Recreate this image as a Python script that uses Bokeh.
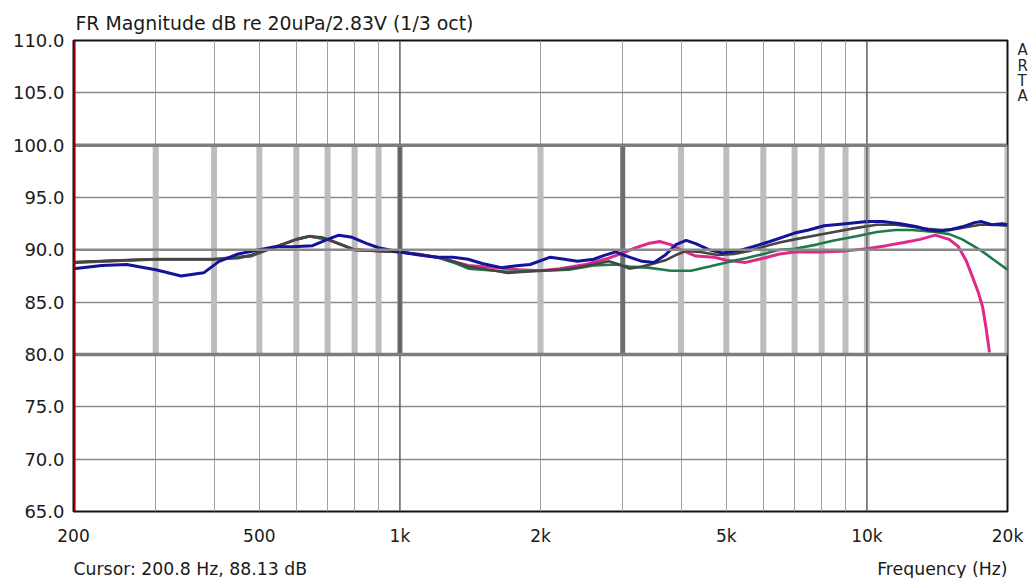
from bokeh.plotting import figure
from bokeh.layouts import column
from bokeh.models import FixedTicker, PrintfTickFormatter, Span, Label, Range1d, LinearAxis
from bokeh.embed import file_html
from bokeh.resources import INLINE

# ---------------- data ----------------
blue_f = [200, 230, 260, 300, 340, 380, 410, 450, 500, 540, 590, 650, 700, 740, 790, 850, 900,
          1000, 1100, 1200, 1300, 1400, 1500, 1650, 1800, 1900, 2100, 2250, 2400, 2600, 2750, 2900,
          3100, 3300, 3500, 3700, 3900, 4100, 4300, 4600, 4900, 5300, 5700, 6200, 7000, 7500, 8100,
          9000, 10000, 10800, 11800, 12800, 13500, 14200, 15000, 16000, 17000, 17600, 18500, 19500, 20000]
blue_db = [88.2, 88.5, 88.6, 88.1, 87.5, 87.8, 88.9, 89.6, 90.0, 90.3, 90.3, 90.4, 91.0, 91.4, 91.2, 90.6, 90.2,
           89.8, 89.5, 89.3, 89.3, 89.1, 88.7, 88.3, 88.5, 88.6, 89.3, 89.1, 88.9, 89.1, 89.5, 89.8,
           89.3, 88.9, 88.8, 89.5, 90.5, 90.9, 90.6, 90.0, 89.7, 89.9, 90.3, 90.8, 91.6, 91.9, 92.3,
           92.5, 92.7, 92.7, 92.5, 92.2, 91.9, 91.8, 91.9, 92.2, 92.6, 92.7, 92.4, 92.5, 92.4]

grey_f = [200, 250, 300, 350, 400, 450, 480, 520, 560, 600, 640, 680, 720, 760, 800, 900, 1000, 1100,
          1200, 1300, 1400, 1500, 1600, 1700, 1850, 2000, 2200, 2400, 2600, 2800, 2950, 3100, 3300, 3500,
          3700, 3900, 4100, 4400, 4800, 5200, 5600, 6000, 6500, 7000, 7800, 8500, 9500, 10500, 11500,
          12500, 13500, 14500, 15500, 16500, 17500, 18500, 20000]
grey_db = [88.8, 89.0, 89.1, 89.1, 89.1, 89.2, 89.5, 90.0, 90.5, 91.0, 91.3, 91.2, 90.8, 90.4, 90.0, 89.9, 89.8, 89.6,
           89.3, 88.9, 88.4, 88.2, 88.0, 87.8, 87.9, 88.0, 88.1, 88.3, 88.6, 88.9, 88.6, 88.2, 88.4, 88.7,
           89.0, 89.5, 89.9, 89.8, 89.5, 89.6, 89.9, 90.3, 90.7, 91.0, 91.4, 91.7, 92.1, 92.4, 92.4,
           92.2, 92.0, 91.9, 92.0, 92.2, 92.4, 92.4, 92.3]

green_f = [200, 300, 400, 480, 520, 600, 640, 700, 800, 1000, 1200, 1300, 1400, 1500, 1700, 2000, 2300,
           2600, 2900, 3100, 3400, 3800, 4200, 4600, 5000, 5500, 6000, 6500, 7000, 7800, 8500, 9500,
           10500, 11500, 12500, 14000, 15000, 16000, 17000, 17600, 18500, 19300, 20000]
green_db = [88.8, 89.1, 89.1, 89.4, 90.0, 91.0, 91.3, 91.0, 90.0, 89.8, 89.3, 88.8, 88.2, 88.1, 87.9, 88.0, 88.1,
            88.5, 88.6, 88.4, 88.3, 88.0, 88.0, 88.4, 88.8, 89.2, 89.6, 90.0, 90.1, 90.5, 90.9, 91.3,
            91.7, 91.9, 91.9, 91.7, 91.5, 91.0, 90.3, 89.9, 89.2, 88.6, 88.1]

pink_f = [200, 300, 400, 480, 520, 600, 640, 700, 800, 1000, 1200, 1400, 1600, 1800, 2000, 2200, 2500,
          2800, 3000, 3200, 3400, 3600, 3800, 4000, 4300, 4700, 5000, 5500, 6000, 6500, 7000, 8000,
          9000, 10000, 11000, 12000, 13000, 14000, 15000, 15700, 16300, 16800, 17300, 17700, 18000, 18300]
pink_db = [88.8, 89.1, 89.1, 89.4, 90.0, 91.0, 91.3, 91.0, 90.0, 89.8, 89.3, 88.5, 88.3, 88.1, 88.0, 88.2, 88.6,
           89.2, 89.7, 90.2, 90.6, 90.8, 90.5, 90.0, 89.4, 89.3, 89.0, 88.8, 89.2, 89.6, 89.8, 89.8,
           89.9, 90.1, 90.4, 90.7, 91.0, 91.4, 91.0, 90.3, 89.0, 87.5, 86.0, 84.5, 82.5, 80.2]

x_ticks = [200, 500, 1000, 2000, 5000, 10000, 20000]
x_tick_labels = ["200", "500", "1k", "2k", "5k", "10k", "20k"]
y_ticks = [65, 70, 75, 80, 85, 90, 95, 100, 105, 110]
grid_freqs = [300, 400, 500, 600, 700, 800, 900, 2000, 3000, 4000, 5000, 6000, 7000, 8000, 9000]
major_grid_freqs = [1000, 10000]
thin_db_lines = [70, 75, 85, 95, 105]
thick_db_lines = [80, 100]
mid_db_lines = [90]
bar_freqs = [300, 400, 500, 600, 700, 800, 900, 2000, 4000, 5000, 6000, 7000, 8000, 9000, 10000, 20000]
dark_bar_freqs = [1000, 3000]
window_lo, window_hi = 80, 100
cursor_freq = 200.8

title_text = "FR Magnitude dB re 20uPa/2.83V (1/3 oct)"
cursor_text = "Cursor: 200.8 Hz, 88.13 dB"
xlabel_text = "Frequency (Hz)"
brand_letters = ["A", "R", "T", "A"]
brand_slots = [109.05, 107.55, 106.1, 104.65]   # where the stacked brand letters sit on the right edge

FONT = "DejaVu Sans"
TXT = "#1a1a1a"

# ---------------- main plot ----------------
p = figure(width=1033, height=548, x_axis_type="log", x_range=(200, 20000), y_range=(65, 110),
           output_backend="svg", toolbar_location=None,
           min_border_left=73, min_border_right=26, min_border_top=40, min_border_bottom=35)
p.background_fill_color = "white"
p.border_fill_color = "white"
p.outline_line_color = "#111111"
p.outline_line_width = 2

p.title.text = title_text
p.title.align = "left"
p.title.offset = 2
p.title.text_font = FONT
p.title.text_font_size = "18.9px"
p.title.text_font_style = "normal"
p.title.text_color = TXT
p.title.standoff = 14

# grids
p.xgrid.ticker = FixedTicker(ticks=grid_freqs)
p.xgrid.grid_line_color = "#a0a0a0"
p.xgrid.grid_line_width = 1
p.ygrid.ticker = FixedTicker(ticks=thin_db_lines)
p.ygrid.grid_line_color = "#8a8a8a"
p.ygrid.grid_line_width = 1.5

for f in major_grid_freqs:
    p.add_layout(Span(location=f, dimension="height", line_color="#606060", line_width=1.5))

# tolerance window bars
p.segment(x0=bar_freqs, x1=bar_freqs, y0=[window_lo] * len(bar_freqs), y1=[window_hi] * len(bar_freqs),
          line_color="#bdbdbd", line_width=6)
p.segment(x0=dark_bar_freqs, x1=dark_bar_freqs, y0=[window_lo] * len(dark_bar_freqs),
          y1=[window_hi] * len(dark_bar_freqs), line_color="#6e6e6e", line_width=5)

for d in thick_db_lines:
    p.add_layout(Span(location=d, dimension="width", line_color="#7d7d7d", line_width=3.5))
for d in mid_db_lines:
    p.add_layout(Span(location=d, dimension="width", line_color="#8a8a8a", line_width=2.5))

# curves
p.line(pink_f, pink_db, line_color="#e0288a", line_width=3)
p.line(green_f, green_db, line_color="#1f7a4a", line_width=2.6)
p.line(grey_f, grey_db, line_color="#454545", line_width=2.6)
p.line(blue_f, blue_db, line_color="#14149a", line_width=3)

# cursor
p.add_layout(Span(location=cursor_freq, dimension="height", line_color="#8b0000", line_width=2.5))

# axes
p.xaxis.ticker = FixedTicker(ticks=x_ticks)
p.xaxis.major_label_overrides = {t: l for t, l in zip(x_ticks, x_tick_labels)}
p.yaxis.ticker = FixedTicker(ticks=y_ticks)
p.yaxis.formatter = PrintfTickFormatter(format="%.1f")

# right edge: stacked brand letters as labels of a tickless axis
p.extra_y_ranges = {"brand": Range1d(65, 110)}
brand_axis = LinearAxis(y_range_name="brand", ticker=FixedTicker(ticks=brand_slots),
                        major_label_overrides={s: c for s, c in zip(brand_slots, brand_letters)})
p.add_layout(brand_axis, "right")

for ax in (p.xaxis[0], p.yaxis[0], brand_axis):
    ax.axis_line_color = None
    ax.major_tick_line_color = None
    ax.minor_tick_line_color = None
    ax.major_tick_out = 0
    ax.major_tick_in = 0
    ax.major_label_text_font = FONT
    ax.major_label_text_font_size = "17px"
    ax.major_label_text_color = TXT
p.xaxis.major_label_standoff = 14
p.yaxis[0].major_label_standoff = 9
p.yaxis[0].major_label_text_font_size = "18px"
brand_axis.major_label_standoff = 10
brand_axis.major_label_text_font_size = "15px"
brand_axis.major_label_text_color = "#2a2a2a"

# ---------------- bottom strip: cursor readout and axis name ----------------
# (its frame is aligned with the main plot frame by the column layout)
bottom = figure(width=1033, height=30, x_range=Range1d(0, 1), y_range=Range1d(0, 1), title=None,
                output_backend="svg", toolbar_location=None,
                x_axis_location=None, y_axis_location=None, min_border=0)
bottom.outline_line_color = None
bottom.xgrid.visible = False
bottom.ygrid.visible = False
bottom.background_fill_color = "white"
bottom.border_fill_color = "white"
bottom.add_layout(Label(x=0, y=10, x_units="screen", y_units="screen", text=cursor_text,
                        text_font=FONT, text_font_size="17.3px", text_color=TXT, text_baseline="middle"))
bottom.add_layout(Label(x=1, y=10, x_units="data", y_units="screen", text=xlabel_text,
                        text_font=FONT, text_font_size="17.3px", text_color=TXT, text_baseline="middle",
                        text_align="right"))

layout = column(p, bottom)
open("out.html", "w").write(file_html(layout, INLINE))
